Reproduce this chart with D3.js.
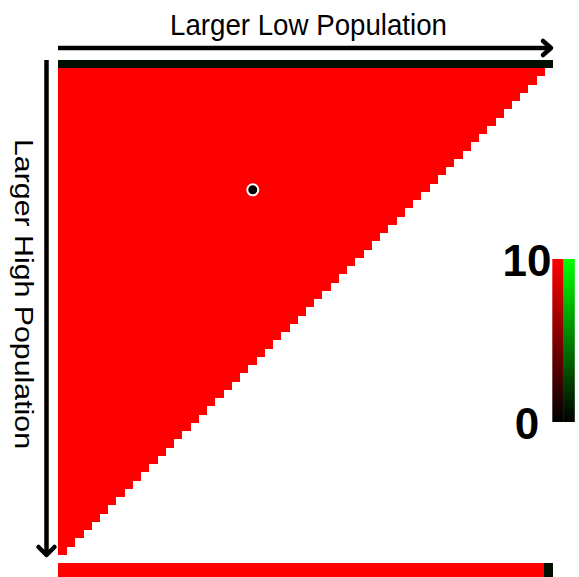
<!DOCTYPE html>
<html>
<head>
<meta charset="utf-8">
<script src="https://cdn.jsdelivr.net/npm/d3@7"></script>
<style>
  body { margin: 0; background: #fff; }
  svg { display: block; font-family: "Liberation Sans", Arial, sans-serif; }
</style>
</head>
<body>
<script>
// Drawing area
const w = 579;
const h = 577;

// Number of cells along each side of the matrix
const nCells = 60;

// Number of filled cells in each matrix row (top row first)
const rowLengths = [59, 58, 57, 56, 55, 54, 53, 52, 51, 50, 49, 48, 47, 46, 45, 44, 43, 42, 41, 40,
  39, 38, 37, 36, 35, 34, 33, 32, 31, 30, 29, 28, 27, 26, 25, 24, 23, 22, 21, 20,
  19, 18, 17, 16, 15, 14, 13, 12, 11, 10, 9, 8, 7, 6, 5, 4, 3, 2, 1, 0];

// Matrix channel values (red, green) for the filled cells
const matrixRed = 10;
const matrixGreen = 0;

// Top strip channel values
const topRed = [0, 0, 0, 0, 0, 0, 0, 0, 0, 0, 0, 0, 0, 0, 0, 0, 0, 0, 0, 0,
  0, 0, 0, 0, 0, 0, 0, 0, 0, 0, 0, 0, 0, 0, 0, 0, 0, 0, 0, 0,
  0, 0, 0, 0, 0, 0, 0, 0, 0, 0, 0, 0, 0, 0, 0, 0, 0, 0, 0, 0];
const topGreen = [0.6, 0.6, 0.6, 0.6, 0.6, 0.6, 0.6, 0.6, 0.6, 0.6, 0.6, 0.6, 0.6, 0.6, 0.6, 0.6, 0.6, 0.6, 0.6, 0.6,
  0.6, 0.6, 0.6, 0.6, 0.6, 0.6, 0.6, 0.6, 0.6, 0.6, 0.6, 0.6, 0.6, 0.6, 0.6, 0.6, 0.6, 0.6, 0.6, 0.6,
  0.6, 0.6, 0.6, 0.6, 0.6, 0.6, 0.6, 0.6, 0.6, 0.6, 0.6, 0.6, 0.6, 0.6, 0.6, 0.6, 0.6, 0.6, 0.6, 0.6];

// Bottom strip channel values
const bottomRed = [10, 10, 10, 10, 10, 10, 10, 10, 10, 10, 10, 10, 10, 10, 10, 10, 10, 10, 10, 10,
  10, 10, 10, 10, 10, 10, 10, 10, 10, 10, 10, 10, 10, 10, 10, 10, 10, 10, 10, 10,
  10, 10, 10, 10, 10, 10, 10, 10, 10, 10, 10, 10, 10, 10, 10, 10, 10, 10, 10, 0];
const bottomGreen = [0, 0, 0, 0, 0, 0, 0, 0, 0, 0, 0, 0, 0, 0, 0, 0, 0, 0, 0, 0,
  0, 0, 0, 0, 0, 0, 0, 0, 0, 0, 0, 0, 0, 0, 0, 0, 0, 0, 0, 0,
  0, 0, 0, 0, 0, 0, 0, 0, 0, 0, 0, 0, 0, 0, 0, 0, 0, 0, 0, 0.6];

// Marked point (column, row) in cell units
const marker = [23.6, 14.8];

// Colour bar range and tick labels
const colorDomain = [0, 10];
const colorTicks = ["0", "10"];

const svg = d3.select("body").append("svg").attr("width", w).attr("height", h);

// Scales
const xScale = d3.scaleBand().domain(d3.range(nCells)).range([58.3, 552.7]);
const yScale = d3.scaleBand().domain(d3.range(nCells)).range([67.7, 562.7]);
const xPos = d3.scaleLinear().domain([0, nCells]).range(xScale.range());
const yPos = d3.scaleLinear().domain([0, nCells]).range(yScale.range());
const channel = d3.scaleLinear().domain(colorDomain).range([0, 255]).clamp(true);

function cellColor(r, g) {
  return d3.rgb(channel(r), channel(g), 0).toString();
}

// Matrix cells
const cells = [];
rowLengths.forEach((len, row) => {
  for (let col = 0; col < len; col++) cells.push({ row, col, r: matrixRed, g: matrixGreen });
});

svg.append("g")
  .attr("shape-rendering", "crispEdges")
  .selectAll("rect")
  .data(cells)
  .enter()
  .append("rect")
  .attr("x", d => xScale(d.col))
  .attr("y", d => yScale(d.row))
  .attr("width", xScale.bandwidth() + 0.5)
  .attr("height", yScale.bandwidth() + 0.5)
  .attr("fill", d => cellColor(d.r, d.g));

// Top strip
svg.append("g")
  .attr("shape-rendering", "crispEdges")
  .selectAll("rect")
  .data(topRed.map((r, i) => ({ i, r, g: topGreen[i] })))
  .enter()
  .append("rect")
  .attr("x", d => xScale(d.i))
  .attr("y", 59.5)
  .attr("width", xScale.bandwidth() + 0.5)
  .attr("height", 67.7 - 59.5)
  .attr("fill", d => cellColor(d.r, d.g));

// Bottom strip
svg.append("g")
  .attr("shape-rendering", "crispEdges")
  .selectAll("rect")
  .data(bottomRed.map((r, i) => ({ i, r, g: bottomGreen[i] })))
  .enter()
  .append("rect")
  .attr("x", d => xScale(d.i))
  .attr("y", 563)
  .attr("width", xScale.bandwidth() + 0.5)
  .attr("height", 16)
  .attr("fill", d => cellColor(d.r, d.g));

// Marker point
svg.append("circle")
  .attr("cx", xPos(marker[0]))
  .attr("cy", yPos(marker[1]))
  .attr("r", 5.5)
  .attr("fill", "#000")
  .attr("stroke", "#fff")
  .attr("stroke-width", 2);

// Arrows
const arrow = svg.append("g")
  .attr("stroke", "#000")
  .attr("stroke-width", 4.5)
  .attr("fill", "none")
  .attr("stroke-linecap", "round")
  .attr("stroke-linejoin", "round");

arrow.append("line").attr("x1", 58).attr("y1", 48).attr("x2", 551).attr("y2", 48).attr("stroke-linecap", "butt");
arrow.append("path").attr("d", "M543,41 L551,48 L543,55");

arrow.append("line").attr("x1", 46.5).attr("y1", 60).attr("x2", 46.5).attr("y2", 555).attr("stroke-linecap", "butt");
arrow.append("path").attr("d", "M38.5,547 L46.5,555 L54.5,547");

// Axis titles
svg.append("text")
  .attr("x", 308.5)
  .attr("y", 35)
  .attr("text-anchor", "middle")
  .attr("font-size", 29)
  .attr("textLength", 277)
  .attr("lengthAdjust", "spacingAndGlyphs")
  .text("Larger Low Population");

svg.append("text")
  .attr("transform", "translate(15,294) rotate(90)")
  .attr("text-anchor", "middle")
  .attr("font-size", 25)
  .attr("textLength", 310)
  .attr("lengthAdjust", "spacingAndGlyphs")
  .text("Larger High Population");

// Colour bar: red channel and green channel side by side
const barY = d3.scaleLinear().domain(colorDomain).range([422, 259]);
const defs = svg.append("defs");
[["redGrad", 1, 0, 552.3], ["greenGrad", 0, 1, 563.3]].forEach(([id, rk, gk, x]) => {
  const grad = defs.append("linearGradient")
    .attr("id", id)
    .attr("x1", 0).attr("y1", 1).attr("x2", 0).attr("y2", 0);
  grad.append("stop").attr("offset", 0).attr("stop-color", cellColor(0, 0));
  grad.append("stop").attr("offset", 1).attr("stop-color", cellColor(colorDomain[1] * rk, colorDomain[1] * gk));
  svg.append("rect")
    .attr("x", x)
    .attr("y", barY(colorDomain[1]))
    .attr("width", 11.5)
    .attr("height", barY(colorDomain[0]) - barY(colorDomain[1]))
    .attr("fill", "url(#" + id + ")");
});

svg.append("g")
  .selectAll("text")
  .data(colorTicks)
  .enter()
  .append("text")
  .attr("x", 527)
  .attr("y", d => barY(+d) + 17)
  .attr("text-anchor", "middle")
  .attr("font-size", 44)
  .attr("font-weight", "bold")
  .text(d => d);
</script>
</body>
</html>
